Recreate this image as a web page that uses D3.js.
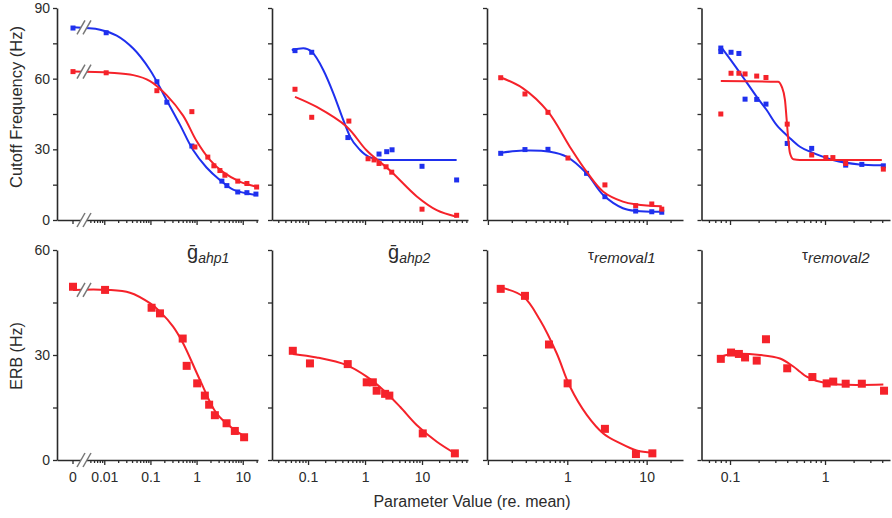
<!DOCTYPE html>
<html><head><meta charset="utf-8">
<script src="https://cdn.jsdelivr.net/npm/d3@7"></script>
<style>body{margin:0;background:#fff}</style>
</head><body><svg id="c" width="892" height="518"></svg>
<script>
// ---------- DATA (x = parameter value re. mean, y = Hz) ----------
// Top row: Cutoff Frequency (Hz)
const cutoffBlue1 = [[0,81.5],[0.011,79.5],[0.138,58.7],[0.227,50],[0.79,31.4],[3.53,16.5],[4.53,14.6],[7.8,11.9],[12.3,11.6],[19.3,11]];
const cutoffRed1  = [[0,63],[0.011,62.5],[0.138,54.9],[0.79,46],[0.92,31],[1.75,26.7],[2.37,23],[3.2,21],[4.1,19],[7.8,16.5],[12.3,15.5],[20,14]];
const fitBlue1 = [[0,81.8],[0.0081,80.8],[0.0186,78.3],[0.0425,72.8],[0.098,63.7],[0.224,50.9],[0.435,40.5],[0.84,29.7],[1.64,22.3],[3.19,17],[6.2,12.9],[19.9,10.6]];
const fitRed1  = [[0,63],[0.0133,62.5],[0.0425,61.5],[0.098,59],[0.224,53],[0.51,44.3],[1.0,33.5],[1.94,25.5],[3.77,20.3],[8.6,16.3],[19.9,14.1]];

const cutoffBlue2 = [[0.059,71.9],[0.116,71.2],[0.50,35],[1.76,28],[2.4,29],[2.98,29.8],[10,22.8],[40.5,17]];
const cutoffRed2  = [[0.059,55.5],[0.116,43.6],[0.52,42],[1.13,26],[1.44,25.5],[1.76,24],[2.34,22.6],[2.94,20.3],[10,4.6],[40.5,2]];
const fitBlue2 = [[0.0518,72.2],[0.0827,72.9],[0.116,71.4],[0.185,63.7],[0.278,53.8],[0.416,42.4],[0.545,35.4],[0.817,29.7],[1.22,26.6],[2.09,25.5],[40.5,25.5]];
const fitRed2  = [[0.059,52.3],[0.142,48],[0.477,39.6],[1.07,29.5],[2.75,21],[8.1,10],[18.1,4.2],[40.5,1.4]];

const cutoffBlue3 = [[0.145,28.3],[0.293,29.9],[0.571,30],[1.75,19.8],[2.98,9.9],[7.27,3.8],[11.6,3.5],[15.5,3.3]];
const cutoffRed3  = [[0.145,60.4],[0.293,53.5],[0.571,45.7],[1.02,26.3],[2.98,14.9],[7.27,6.1],[11.6,6.8],[15.5,4.6]];
const fitBlue3 = [[0.145,28.5],[0.277,29.5],[0.605,29],[0.98,26.9],[1.75,19.8],[2.84,10.6],[5.02,5],[7.48,3.8],[15.5,3.5]];
const fitRed3  = [[0.145,60.5],[0.277,55.9],[0.571,46],[1.08,31],[1.75,20.5],[2.84,12],[5.02,7.8],[7.48,6.6],[15.5,5.8]];

const cutoffBlue4 = [[0.080,73],[0.080,71.5],[0.1025,71.2],[0.124,70.7],[0.144,51.3],[0.191,51.2],[0.239,49.2],[0.40,32.5],[0.724,30.4],[1.65,23.3],[2.44,23.6],[4.11,23]];
const cutoffRed4  = [[0.080,45],[0.1025,62.3],[0.124,62.3],[0.144,62],[0.191,61.1],[0.239,60.5],[0.40,40.7],[0.724,27.6],[1.02,26.5],[1.21,26.5],[1.65,24],[4.11,21.6]];
const fitBlue4 = [[0.080,73.6],[0.108,66.5],[0.144,59.4],[0.191,52.3],[0.243,46.7],[0.31,40.3],[0.411,35.4],[0.545,31.1],[0.694,29],[1.21,25.5],[2.3,23.6],[4.11,23.3]];
const fitRed4  = [[0.080,59],[0.32,58.7],[0.35,56.6],[0.379,50.9],[0.395,42.4],[0.411,34],[0.428,28.3],[0.464,25.8],[0.545,25.5],[3.96,25.5]];

// Bottom row: ERB (Hz)
const erb1 = [[0,49.5],[0.0104,48.6],[0.106,43.5],[0.161,41.9],[0.50,34.7],[0.61,26.9],[1.03,21.9],[1.51,18.4],[1.87,15.8],[2.49,12.8],[4.46,10.5],[6.74,8.3],[10.7,6.5]];
const fitErb1 = [[0,48.6],[0.0115,48.6],[0.036,47.8],[0.0975,44.8],[0.161,42.4],[0.31,38.1],[0.513,33.3],[1.18,22.9],[2.71,13.3],[6.2,8.9],[11.1,6.7]];
const erb2 = [[0.054,31.2],[0.108,27.6],[0.497,27.4],[1.07,22.2],[1.37,22.2],[1.60,19.8],[2.25,18.9],[2.67,18.4],[10.3,7.6],[37.7,1.9]];
const fitErb2 = [[0.054,30.3],[0.142,29.3],[0.477,27.1],[1.07,23.8],[2.09,20],[4.12,15.2],[8.05,10],[18.2,5.2],[37.7,1.9]];
const erb3 = [[0.145,48.9],[0.293,46.9],[0.588,33.0],[1.01,21.9],[2.98,8.9],[7.33,1.7],[11.8,1.9]];
const fitErb3 = [[0.145,49.3],[0.279,46.7],[0.453,40],[0.735,30.5],[1.08,21],[1.76,12.9],[2.84,7.6],[4.61,4.8],[7.49,2.7],[11.8,2.1]];
const erb4 = [[0.080,28.9],[0.1025,30.7],[0.124,30.3],[0.144,29.3],[0.191,28.4],[0.239,34.5],[0.40,26.2],[0.736,23.7],[1.04,21.9],[1.22,22.4],[1.65,21.8],[2.44,21.8],[4.18,19.8]];
const fitErb4 = [[0.080,29.5],[0.1025,30.2],[0.207,30],[0.336,29],[0.464,26.7],[0.545,25.2],[0.64,23.8],[1.04,21.9],[4.11,21.6]];

const panelTitles = ["ahp1","ahp2","removal1","removal2"];
const xTickLabels = [[0.01,0.1,1,10],[0.1,1,10],[1,10],[0.1,1]];
const yTicksTop = [0,15,30,45,60,75,90], yLabelsTop = [0,30,60,90];
const yTicksBot = [0,15,30,45,60], yLabelsBot = [0,30,60];

// ---------- LAYOUT ----------
const svg = d3.select("#c");
const FONT = "'Liberation Sans', Arial, sans-serif";
const BLUE = "#1f30ee", RED = "#f5222a", AX = "#2a2a2a", TXT = "#2b2b2b";

const cols = [
  {x0:57,   x1:258, dom:[0.000946,21.4], zero:73, brk:84, minTick:0.005},
  {x0:272,  x1:468, dom:[0.0233,64.1]},
  {x0:487,  x1:683, dom:[0.0974,28.7]},
  {x0:701.5,x1:890, dom:[0.0501,4.83]}
];
const rows = [
  {y0:220, y1:8,   max:90, ticks:yTicksTop, labels:yLabelsTop, ms:5},
  {y0:460, y1:250, max:60, ticks:yTicksBot, labels:yLabelsBot, ms:8}
];
const topData = [
  [fitBlue1, cutoffBlue1, fitRed1, cutoffRed1],
  [fitBlue2, cutoffBlue2, fitRed2, cutoffRed2],
  [fitBlue3, cutoffBlue3, fitRed3, cutoffRed3],
  [fitBlue4, cutoffBlue4, fitRed4, cutoffRed4]
];
const botData = [[fitErb1, erb1],[fitErb2, erb2],[fitErb3, erb3],[fitErb4, erb4]];
const stepFits = [fitBlue2, fitRed4];

const near = (a,b)=>Math.abs(a-b) < 1e-9*Math.max(1,Math.abs(b));

function drawBreak(g, bx, by){
  const dx = 3, h = 7;
  g.append("polygon")
    .attr("points", `${bx-dx-4},${by+h} ${bx-dx+4},${by-h} ${bx+dx+4},${by-h} ${bx+dx-4},${by+h}`)
    .attr("fill","#fff");
  [-dx, dx].forEach(o=>{
    g.append("line").attr("x1",bx+o-4).attr("y1",by+h).attr("x2",bx+o+4).attr("y2",by-h)
      .attr("stroke","#777").attr("stroke-width",1.5);
  });
}

rows.forEach((row, ri)=>{
  const y = d3.scaleLinear().domain([0,row.max]).range([row.y0,row.y1]);
  cols.forEach((col, ci)=>{
    const g = svg.append("g");
    const xl = d3.scaleLog().domain(col.dom).range([col.x0,col.x1]);
    const X = v => (v === 0 && col.zero !== undefined) ? col.zero : xl(v);
    const bottom = ri === 1;

    const ya = d3.axisLeft(y).tickValues(row.ticks).tickSize(4).tickSizeOuter(0).tickPadding(3)
      .tickFormat(d => (ci === 0 && row.labels.includes(d)) ? d : "");
    const yg = g.append("g").attr("transform",`translate(${col.x0},0)`).call(ya);

    let minor = xl.ticks().filter(t => col.minTick === undefined || t >= col.minTick);
    const majors = minor.filter(t => Math.abs(Math.log10(t) - Math.round(Math.log10(t))) < 1e-9);
    minor = minor.filter(t => !majors.some(m => near(m,t)));
    const xaMinor = d3.axisBottom(xl).tickValues(minor).tickSize(3).tickSizeOuter(0).tickFormat("");
    const xg = g.append("g").attr("transform",`translate(0,${row.y0})`).call(xaMinor);
    const labs = xTickLabels[ci];
    const xaMajor = d3.axisBottom(xl).tickValues(majors).tickSize(5).tickSizeOuter(0).tickPadding(7)
      .tickFormat(d => (bottom && labs.some(l => near(l,d))) ? String(+d.toPrecision(3)) : "");
    const xg2 = g.append("g").attr("transform",`translate(0,${row.y0})`).call(xaMajor);
    xg2.select(".domain").remove();

    if (col.zero !== undefined){
      const zg = g.append("g").attr("transform",`translate(0,${row.y0})`);
      zg.append("line").attr("x1",col.zero).attr("x2",col.zero).attr("y1",0).attr("y2",4).attr("stroke",AX).attr("stroke-width",1.3);
      if (bottom) zg.append("text").attr("x",col.zero).attr("y",12).attr("dy","0.71em")
        .attr("text-anchor","middle").text("0");
    }

    [yg, xg, xg2].forEach(a=>{
      a.selectAll(".domain").attr("stroke",AX).attr("stroke-width",1.6);
      a.selectAll(".tick line").attr("stroke",AX).attr("stroke-width",1.3);
    });
    g.selectAll("text").attr("font-family",FONT).attr("font-size",14).attr("fill",TXT);

    const series = bottom ? [[botData[ci][0], botData[ci][1], RED]]
                          : [[topData[ci][0], topData[ci][1], BLUE],[topData[ci][2], topData[ci][3], RED]];
    series.forEach(([fit, pts, color])=>{
      const curve = stepFits.includes(fit) ? d3.curveMonotoneX : d3.curveCatmullRom.alpha(0.5);
      const line = d3.line().x(d=>X(d[0])).y(d=>y(d[1])).curve(curve);
      g.append("path").datum(fit).attr("d",line).attr("fill","none")
        .attr("stroke",color).attr("stroke-width",2);
      g.selectAll(null).data(pts).enter().append("rect")
        .attr("x",d=>X(d[0])-row.ms/2).attr("y",d=>y(d[1])-row.ms/2)
        .attr("width",row.ms).attr("height",row.ms).attr("fill",color);
    });

    if (col.brk !== undefined){
      series.forEach(([fit])=>drawBreak(g, col.brk, y(fit[0][1])));
      drawBreak(g, col.brk, row.y0);
    }
  });
});

// Panel titles (bottom row)
const titlePos = [[187,259],[388,259],[588,260],[802,260]];
panelTitles.forEach((s,i)=>{
  const t = svg.append("text").attr("x",titlePos[i][0]).attr("y",titlePos[i][1])
    .attr("font-family",FONT).attr("fill",TXT);
  if (i < 2){
    t.append("tspan").attr("font-size",20).text("ḡ");
    t.append("tspan").attr("font-size",14).attr("font-style","italic").attr("dy",4).text(s);
  } else {
    t.append("tspan").attr("font-size",15).text("τ");
    t.append("tspan").attr("font-size",15).attr("font-style","italic").attr("dy",3).text(s);
  }
});

// Axis titles
svg.append("text").attr("transform","translate(22,107) rotate(-90)").attr("text-anchor","middle")
  .attr("font-family",FONT).attr("font-size",16.5).attr("fill",TXT).text("Cutoff Frequency (Hz)");
svg.append("text").attr("transform","translate(22,356) rotate(-90)").attr("text-anchor","middle")
  .attr("font-family",FONT).attr("font-size",16).attr("fill",TXT).text("ERB (Hz)");
svg.append("text").attr("x",472).attr("y",507).attr("text-anchor","middle")
  .attr("font-family",FONT).attr("font-size",16).attr("fill",TXT).text("Parameter Value (re. mean)");
</script></body></html>
